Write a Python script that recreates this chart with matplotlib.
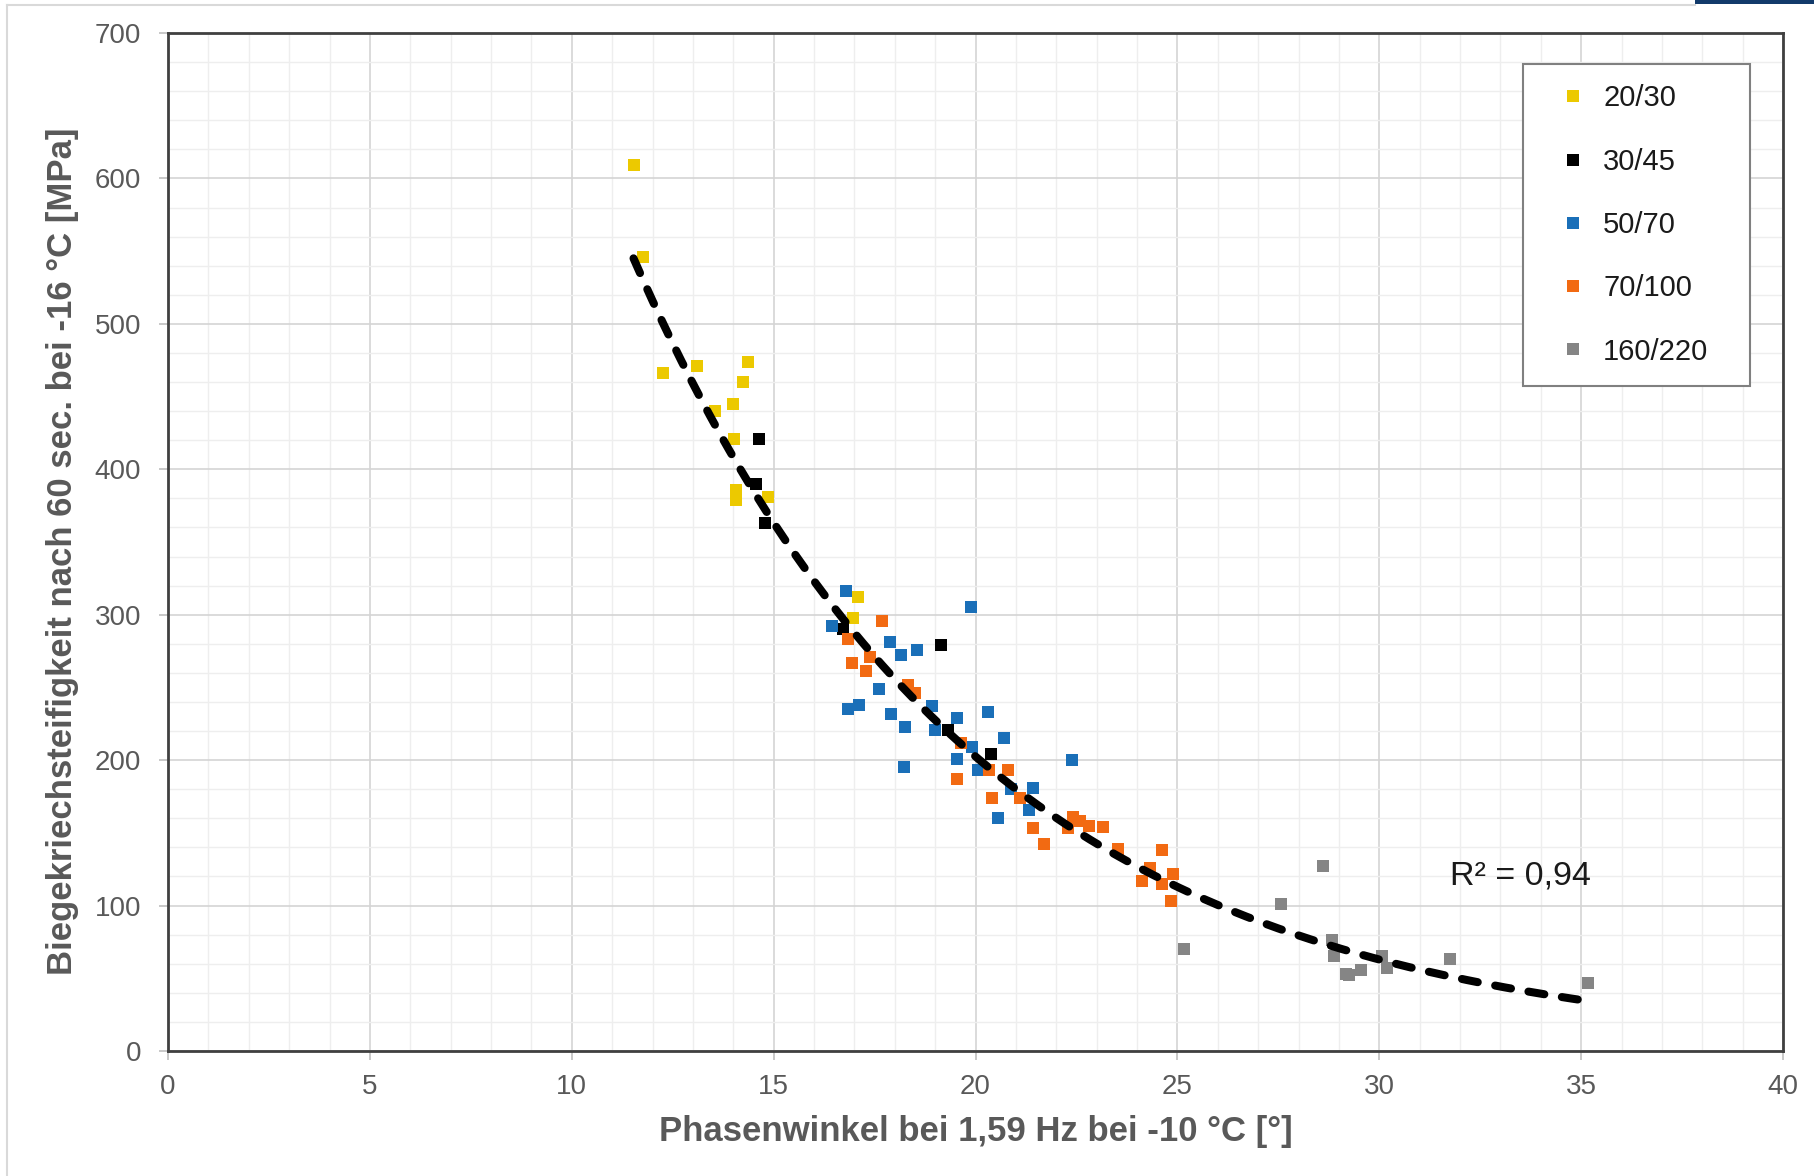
import numpy as np
import matplotlib
matplotlib.use("Agg")
import matplotlib.pyplot as plt
from matplotlib.lines import Line2D
from matplotlib.patches import Rectangle
from matplotlib.ticker import MultipleLocator

plt.rcParams['font.family'] = ['Liberation Sans', 'DejaVu Sans']

# Phasenwinkel [°] / Biegekriechsteifigkeit [MPa] per binder grade
x_2030 = [11.53, 11.77, 12.25, 13.09, 14.36, 14.23, 13.99, 13.55, 14.02, 14.08, 14.08, 14.87, 17.08, 16.97]
y_2030 = [609, 546, 466, 471, 474, 460, 445, 440, 421, 386, 379, 381, 312, 298]

x_3045 = [14.65, 14.56, 14.79, 16.73, 19.15, 19.33, 20.38]
y_3045 = [421, 390, 363, 290, 279, 221, 204]

x_5070 = [16.79, 16.45, 19.89, 17.88, 18.15, 18.56, 17.61, 16.83, 17.12, 17.90, 18.26, 18.93, 19.53,
          20.30, 19.00, 19.91, 20.71, 19.53, 22.40, 18.23, 20.07, 20.87, 21.43, 21.33, 20.55]
y_5070 = [316, 292, 305, 281, 272, 276, 249, 235, 238, 232, 223, 237, 229,
          233, 221, 209, 215, 201, 200, 195, 193, 180, 181, 166, 160]

x_70100 = [16.83, 17.68, 16.93, 17.39, 17.30, 18.34, 18.50, 19.63, 20.33, 20.81, 19.55, 21.10, 20.40,
           21.43, 21.70, 22.42, 22.59, 22.30, 22.81, 23.17, 23.54, 24.61, 24.32, 24.90, 24.13, 24.61, 24.83]
y_70100 = [283, 296, 267, 271, 261, 252, 246, 212, 193, 193, 187, 174, 174,
           153, 142, 161, 158, 153, 155, 154, 139, 138, 126, 122, 117, 115, 103]

x_160220 = [25.16, 27.57, 28.60, 28.82, 28.89, 29.18, 29.25, 29.56, 30.08, 30.18, 31.74, 35.16]
y_160220 = [70, 101, 127, 76, 65, 53, 52, 56, 65, 57, 63, 47]

series_labels = ['20/30', '30/45', '50/70', '70/100', '160/220']
series_colors = ['#ecc900', '#000000', '#1a6fb8', '#f26a12', '#858585']

# exponential trend y = a * exp(b * x)
trend_a = 2098.0
trend_b = -0.1169
r2_text = 'R² = 0,94'

fig = plt.figure(figsize=(18.14, 11.76), dpi=100)
ax = fig.add_axes([168 / 1814, 1 - 1051 / 1176, 1615 / 1814, 1018 / 1176])

xs = [x_2030, x_3045, x_5070, x_70100, x_160220]
ys = [y_2030, y_3045, y_5070, y_70100, y_160220]
for xv, yv, lab, col in zip(xs, ys, series_labels, series_colors):
    ax.plot(xv, yv, linestyle='none', marker='s', ms=8.6, mew=0, color=col, label=lab, zorder=3)

all_x = np.concatenate([np.array(v) for v in xs])
xt = np.linspace(all_x.min(), all_x.max(), 300)
ax.plot(xt, trend_a * np.exp(trend_b * xt), color='black', lw=5.8,
        dashes=(2.0, 2.2), dash_capstyle='round', solid_capstyle='round', zorder=4)

ax.text(31.75, 120, r2_text, fontsize=24.5, color='#1a1a1a', ha='left', va='center', zorder=5)

ax.set_xlim(0, 40)
ax.set_ylim(0, 700)
ax.xaxis.set_major_locator(MultipleLocator(5))
ax.xaxis.set_minor_locator(MultipleLocator(1))
ax.yaxis.set_major_locator(MultipleLocator(100))
ax.yaxis.set_minor_locator(MultipleLocator(20))
ax.grid(which='major', color='#d4d4d4', lw=1.2, zorder=0)
ax.grid(which='minor', color='#eeeeee', lw=1.0, zorder=0)
ax.set_axisbelow(True)

for sp in ax.spines.values():
    sp.set_color('#404040')
    sp.set_linewidth(2.0)

ax.tick_params(which='major', labelsize=20, labelcolor='#595959', color='#bfbfbf',
               length=6.5, width=1.2)
ax.tick_params(axis='y', which='major', pad=13)
ax.tick_params(axis='x', which='major', pad=10)
ax.tick_params(which='minor', length=0)

fig.text(976 / 1814, 1 - 1131 / 1176, 'Phasenwinkel bei 1,59 Hz bei -10 °C [°]',
         fontsize=25, fontweight='bold', color='#595959', ha='center', va='center')
fig.text(63 / 1814, 1 - 551 / 1176, 'Biegekriechsteifigkeit nach 60 sec. bei -16 °C [MPa]',
         fontsize=25, fontweight='bold', color='#595959', ha='center', va='center', rotation=90)

leg = ax.legend(loc='upper left', bbox_to_anchor=(1523 / 1814, 1 - 64 / 1176, 227 / 1814, 0),
                bbox_transform=fig.transFigure, mode='expand', borderaxespad=0,
                fontsize=21, frameon=True, fancybox=False, framealpha=1, edgecolor='#808080',
                handlelength=2.0, handletextpad=0.05, borderpad=0.7, labelspacing=1.21,
                markerscale=1.0)
leg.get_frame().set_linewidth(1.5)
for t in leg.get_texts():
    t.set_color('#1a1a1a')

# outer chart border and the strip at the top edge
fig.add_artist(Line2D([7 / 1814, 1695 / 1814], [1 - 5 / 1176, 1 - 5 / 1176],
                      transform=fig.transFigure, color='#d9d9d9', lw=1.5))
fig.add_artist(Line2D([7 / 1814, 7 / 1814], [0, 1 - 5 / 1176],
                      transform=fig.transFigure, color='#d9d9d9', lw=1.5))
fig.add_artist(Rectangle((1695 / 1814, 1 - 4 / 1176), 119 / 1814, 4 / 1176,
                         transform=fig.transFigure, color='#123a6b', lw=0))

fig.savefig('out.png', dpi=100)
